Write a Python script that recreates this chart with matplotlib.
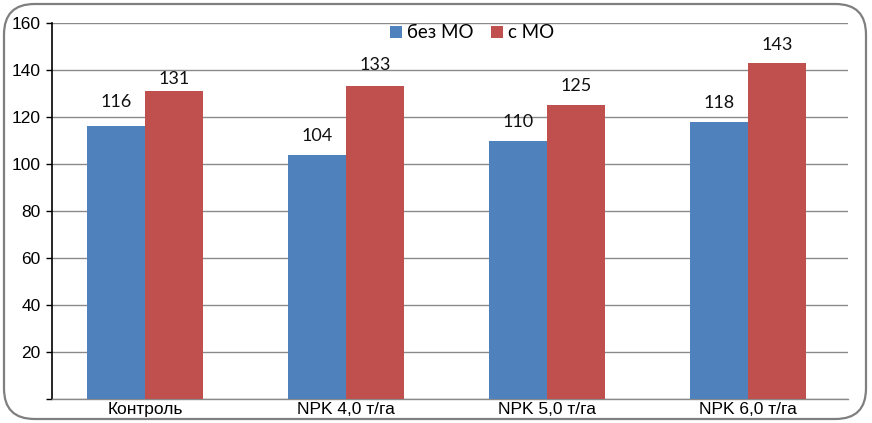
import matplotlib
matplotlib.use('Agg')
import numpy as np
import matplotlib.pyplot as plt
from matplotlib.patches import FancyBboxPatch

# ── Data ──────────────────────────────────────────────────────────────────────
categories = ['Контроль', 'NPK 4,0 т/га', 'NPK 5,0 т/га', 'NPK 6,0 т/га']
series_names = ['без МО', 'с МО']
bez_mo = [116, 104, 110, 118]
s_mo = [131, 133, 125, 143]
yticks = [20, 40, 60, 80, 100, 120, 140, 160]

# label offsets above bars (points), as placed in the original
off_bez = [11.5, 7.5, 7.5, 7.5]
off_s = [3, 10, 8, 7.5]

BLUE = '#4F81BD'
RED = '#C0504D'
NARROW = ['Liberation Sans Narrow', 'Liberation Sans', 'DejaVu Sans']
LABEL_FONT = ['Lato', 'DejaVu Sans']

# ── Figure ────────────────────────────────────────────────────────────────────
fig = plt.figure(figsize=(8.72, 4.23), dpi=100)
fig.patch.set_facecolor('white')

# rounded outer border
border = FancyBboxPatch((4 / 872, 4 / 423), 862 / 872, 415 / 423,
                        boxstyle='round,pad=0,rounding_size=0.035',
                        transform=fig.transFigure, facecolor='none',
                        edgecolor='#7f7f7f', lw=1.6,
                        mutation_aspect=872 / 423)
fig.patches.append(border)

ax = fig.add_axes([51.7 / 872, 24 / 423, (848 - 51.7) / 872, 376 / 423])

x = np.arange(len(categories))
w = 0.288
b1 = ax.bar(x - w / 2, bez_mo, w, color=BLUE, label=series_names[0], zorder=3)
b2 = ax.bar(x + w / 2, s_mo, w, color=RED, label=series_names[1], zorder=3)

for bars, offs in ((b1, off_bez), (b2, off_s)):
    for rect, off in zip(bars, offs):
        h = rect.get_height()
        ax.annotate(f'{h:.0f}', (rect.get_x() + rect.get_width() / 2, h),
                    xytext=(0, off), textcoords='offset points',
                    ha='center', va='bottom', fontsize=13,
                    family=LABEL_FONT, color='#111111')

ax.set_xlim(-0.464, 3.4975)
ax.set_ylim(0, 160)
ax.set_yticks([0] + yticks)
ax.set_yticklabels([''] + [str(t) for t in yticks], family=NARROW, fontsize=12.5)
ax.set_xticks(x)
ax.set_xticklabels(categories, family=NARROW, fontsize=12.5)
ax.tick_params(axis='x', length=0, pad=2)
ax.tick_params(axis='y', length=4, width=1, direction='out', pad=4)

ax.yaxis.grid(True, color='#8a8a8a', lw=1, zorder=0)
ax.set_axisbelow(True)
for side in ('top', 'right'):
    ax.spines[side].set_visible(False)
ax.spines['left'].set_color('black')
ax.spines['left'].set_linewidth(1.2)
ax.spines['bottom'].set_color('#8a8a8a')
ax.spines['bottom'].set_linewidth(1)

leg = fig.legend(handles=[b1, b2], labels=series_names,
                 loc='center left', bbox_to_anchor=(390 / 872, 1 - 33 / 423),
                 ncol=2, frameon=False,
                 prop={'family': LABEL_FONT, 'size': 13.5},
                 handlelength=0.65, handleheight=0.6, handletextpad=0.25,
                 columnspacing=0.95, borderpad=0, borderaxespad=0)

fig.savefig('out.png', dpi=100, facecolor='white')
plt.close(fig)
